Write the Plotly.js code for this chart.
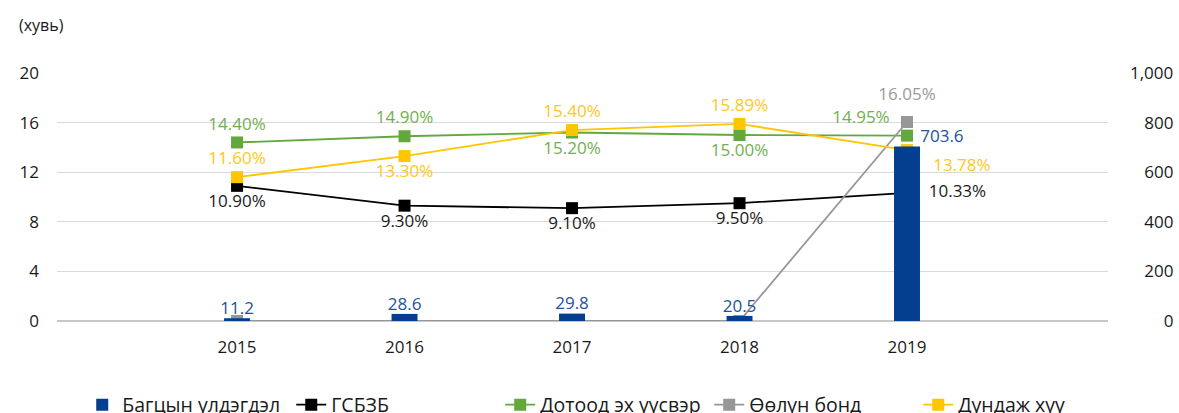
<!DOCTYPE html>
<html>
<head>
<meta charset="utf-8">
<script src="https://cdn.plot.ly/plotly-3.0.1.min.js"></script>
<style>html,body{margin:0;padding:0;background:#fff;}#chart{width:1179px;height:413px;}</style>
</head>
<body>
<div id="chart"></div>
<script>
// ---- data ----
const years = ['2015', '2016', '2017', '2018', '2019'];
const portfolio = [11.2, 28.6, 29.8, 20.5, 703.6];          // Багцын үлдэгдэл (right axis)
const gsbzb = [10.90, 9.30, 9.10, 9.50, 10.33];              // ГСБЗБ
const domestic = [14.40, 14.90, 15.20, 15.00, 14.95];        // Дотоод эх үүсвэр
const bond = [0, 0, 0, 0, 16.05];                            // Өөлүн бонд
const average = [11.60, 13.30, 15.40, 15.89, 13.78];         // Дундаж хүү
const bondLabels = ['', '', '', '', '16.05%'];
const rightTicks = [0, 200, 400, 600, 800, 1000];
const rightTickText = ['\u2007\u2007\u2007\u20080', '\u2007\u2008200', '\u2007\u2008400', '\u2007\u2008600', '\u2007\u2008800', '1,000'];

const NB = '\u00a0';
const pct = a => a.map(v => v.toFixed(2) + '%');
const FONT = 'Open Sans, sans-serif';

const traces = [
  {
    type: 'bar', name: 'Багцын үлдэгдэл', x: years, y: portfolio, yaxis: 'y2',
    marker: {color: '#033F8E'}, width: 0.155, hoverinfo: 'y'
  },
  {
    type: 'scatter', mode: 'text', x: years, y: portfolio, yaxis: 'y2', showlegend: false,
    text: portfolio.map((v, i) => (i === 4 ? NB + NB + NB : '') + v.toFixed(1)),
    textposition: ['top center', 'top center', 'top center', 'top center', 'top right'],
    textfont: {color: '#21529C', size: 17, family: FONT}, hoverinfo: 'skip'
  },
  {
    type: 'scatter', mode: 'lines+markers+text', name: 'ГСБЗБ', x: years, y: gsbzb,
    line: {color: '#000000', width: 1.8}, marker: {symbol: 'square', size: 12, color: '#000000'},
    text: pct(gsbzb).map((t, i) => (i === 4 ? NB + NB + NB : '') + t),
    textposition: ['bottom center', 'bottom center', 'bottom center', 'bottom center', 'middle right'],
    textfont: {color: '#1a1a1a', size: 17, family: FONT}
  },
  {
    type: 'scatter', mode: 'lines+markers+text', name: 'Дотоод эх үүсвэр', x: years, y: domestic,
    line: {color: '#62A83D', width: 1.8}, marker: {symbol: 'square', size: 12, color: '#62A83D'},
    text: pct(domestic).map((t, i) => t + (i === 4 ? NB + NB : '')),
    textposition: ['top center', 'top center', 'bottom center', 'bottom center', 'top left'],
    textfont: {color: '#72B04E', size: 17, family: FONT}
  },
  {
    type: 'scatter', mode: 'lines+markers', name: 'Өөлүн бонд', x: years, y: bond,
    line: {color: '#979797', width: 1.8}, marker: {symbol: 'square', size: 12, color: '#979797'}
  },
  {
    type: 'scatter', mode: 'markers+text', x: years, y: bond, showlegend: false, hoverinfo: 'skip',
    marker: {size: 26, opacity: 0, color: '#979797'},
    text: bondLabels, textposition: 'top center',
    textfont: {color: '#9a9a9a', size: 17, family: FONT}
  },
  {
    type: 'scatter', mode: 'lines+markers+text', name: 'Дундаж хүү', x: years, y: average,
    line: {color: '#FFC600', width: 1.8}, marker: {symbol: 'square', size: 12, color: '#FFC600'},
    text: pct(average).map((t, i) => (i === 4 ? NB + NB + NB + NB : '') + t),
    textposition: ['top center', 'bottom center', 'top center', 'top center', 'bottom right'],
    textfont: {color: '#FFC61A', size: 17, family: FONT}
  }
];

const layout = {
  width: 1179, height: 413,
  margin: {l: 57, r: 71, t: 73, b: 92, autoexpand: false},
  paper_bgcolor: '#ffffff', plot_bgcolor: '#ffffff',
  font: {family: FONT, size: 17, color: '#1a1a1a'},
  showlegend: true,
  legend: {
    orientation: 'h', x: 0.024, xanchor: 'left', y: -0.26, yanchor: 'top',
    font: {size: 19.5, color: '#1a1a1a', family: FONT}, traceorder: 'normal',
    entrywidth: 164, entrywidthmode: 'pixels', itemwidth: 30
  },
  xaxis: {
    type: 'category', range: [-1.075, 5.2],
    showgrid: false, zeroline: false, showline: false, ticks: '',
    tickfont: {size: 17, color: '#1a1a1a'}, ticklabelstandoff: 14
  },
  yaxis: {
    range: [0, 20], dtick: 4, tick0: 0, showgrid: true, gridcolor: '#d9d9d9', gridwidth: 1,
    zeroline: true, zerolinecolor: '#c8c8c8', zerolinewidth: 1.5,
    ticks: '', tickfont: {size: 17, color: '#1a1a1a'}, ticklabelstandoff: 17
  },
  yaxis2: {
    overlaying: 'y', side: 'right', anchor: 'x',
    range: [0, 1000], tickmode: 'array', tickvals: rightTicks, ticktext: rightTickText,
    showgrid: false, zeroline: false, showline: false, ticks: '',
    ticklabelstandoff: 21,
    tickfont: {size: 17, color: '#1a1a1a'}
  },
  annotations: [{
    text: '(хувь)', xref: 'paper', yref: 'paper', x: -40 / 1051, y: 1 + (73 - 25) / 248,
    xanchor: 'left', yanchor: 'middle', showarrow: false,
    font: {size: 16, color: '#1a1a1a', family: FONT}
  }]
};

Plotly.newPlot('chart', traces, layout, {displayModeBar: false, staticPlot: true});
</script>
</body>
</html>
